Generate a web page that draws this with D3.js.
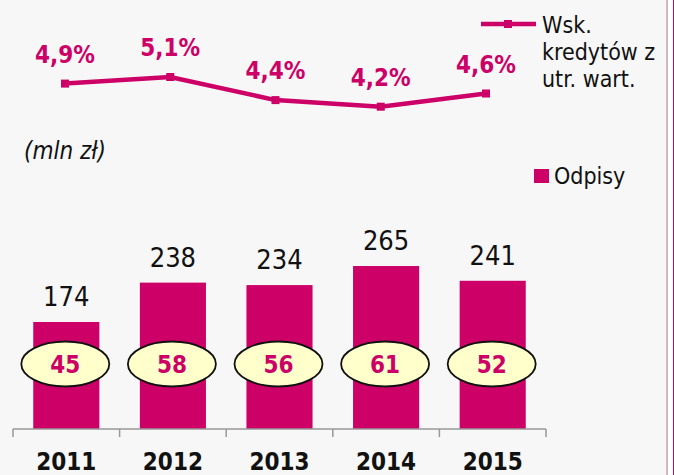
<!DOCTYPE html>
<html>
<head>
<meta charset="utf-8">
<script src="https://cdn.jsdelivr.net/npm/d3@7"></script>
<style>
  html, body { margin: 0; padding: 0; background: #fff; }
  svg { display: block; }
  text { font-family: "DejaVu Sans Condensed", "DejaVu Sans", sans-serif; }
</style>
</head>
<body>
<div id="chart"></div>
<script>
// data
var years = ["2011", "2012", "2013", "2014", "2015"];
var odpisy = [174, 238, 234, 265, 241];
var ellipseVals = [45, 58, 56, 61, 52];
var wskaznik = [4.9, 5.1, 4.4, 4.2, 4.6];
var wskLabels = ["4,9%", "5,1%", "4,4%", "4,2%", "4,6%"];
var legendLine = ["Wsk.", "kredytów z", "utr. wart."];
var legendBar = "Odpisy";
var unitLabel = "(mln zł)";

var W = 674, H = 475,
    magenta = "#cc0066";

var svg = d3.select("#chart").append("svg")
    .attr("width", W)
    .attr("height", H);

// background + right edge frame
svg.append("rect").attr("width", W).attr("height", H).attr("fill", "#fff");
svg.append("rect").attr("width", 666).attr("height", H).attr("fill", "#f7f7f7");
svg.append("rect").attr("x", 666).attr("width", 2).attr("height", H).attr("fill", "#cfb7be");
svg.append("rect").attr("x", 673).attr("width", 1).attr("height", H).attr("fill", magenta);

// bars
var x = d3.scaleBand()
    .domain(years)
    .range([13, 546])
    .paddingInner(0.38)
    .paddingOuter(0.19);

var xCat = d3.scaleBand()
    .domain(years)
    .range([13, 546]);

var y = d3.scaleLinear()
    .domain([0, 300])
    .range([429, 244.5]);

svg.append("g")
    .selectAll("rect")
    .data(odpisy)
    .join("rect")
    .attr("x", (d, i) => x(years[i]))
    .attr("y", d => y(d))
    .attr("width", x.bandwidth())
    .attr("height", d => y(0) - y(d))
    .attr("fill", magenta);

svg.append("g")
    .selectAll("text")
    .data(odpisy)
    .join("text")
    .attr("x", (d, i) => x(years[i]) + x.bandwidth() / 2)
    .attr("y", d => y(d) - 16)
    .attr("text-anchor", "middle")
    .style("font-size", "27px")
    .attr("fill", "#111")
    .text(d => d);

// axis: baseline with ticks at category borders
var axis = svg.append("g").attr("stroke", "#999").attr("stroke-width", 1.5);
axis.append("line")
    .attr("x1", xCat.range()[0]).attr("x2", xCat.range()[1])
    .attr("y1", y(0)).attr("y2", y(0));
var borders = years.map(d => xCat(d)).concat([xCat.range()[1]]);
axis.selectAll("line.tick")
    .data(borders)
    .join("line")
    .attr("class", "tick")
    .attr("x1", d => d).attr("x2", d => d)
    .attr("y1", y(0)).attr("y2", y(0) + 8);

svg.append("g")
    .selectAll("text")
    .data(years)
    .join("text")
    .attr("x", d => xCat(d) + xCat.bandwidth() / 2)
    .attr("y", 470)
    .attr("text-anchor", "middle")
    .style("font-size", "24px")
    .style("font-weight", "bold")
    .attr("fill", "#111")
    .text(d => d);

// ellipses
var ell = svg.append("g")
    .selectAll("g")
    .data(ellipseVals)
    .join("g")
    .attr("transform", (d, i) => "translate(" + (x(years[i]) + x.bandwidth() / 2 - 1) + ",364)");
ell.append("ellipse")
    .attr("rx", 44)
    .attr("ry", 22.5)
    .attr("fill", "#ffffcc")
    .attr("stroke", "#111")
    .attr("stroke-width", 1.8);
ell.append("text")
    .attr("y", 9)
    .attr("text-anchor", "middle")
    .style("font-size", "24px")
    .style("font-weight", "bold")
    .attr("fill", magenta)
    .text(d => d);

// line series
var xl = d3.scalePoint()
    .domain(years)
    .range([65, 486]);
var yl = d3.scaleLinear()
    .domain([4, 5.2])
    .range([113.3, 73.7]);

var line = d3.line()
    .x((d, i) => xl(years[i]))
    .y(d => yl(d));

svg.append("path")
    .datum(wskaznik)
    .attr("d", line)
    .attr("fill", "none")
    .attr("stroke", magenta)
    .attr("stroke-width", 4.5);

svg.append("g")
    .selectAll("rect")
    .data(wskaznik)
    .join("rect")
    .attr("x", (d, i) => xl(years[i]) - 4)
    .attr("y", d => yl(d) - 4)
    .attr("width", 8)
    .attr("height", 8)
    .attr("fill", magenta);

svg.append("g")
    .selectAll("text")
    .data(wskaznik)
    .join("text")
    .attr("x", (d, i) => xl(years[i]))
    .attr("y", d => yl(d) - 21)
    .attr("text-anchor", "middle")
    .style("font-size", "24px")
    .style("font-weight", "bold")
    .attr("fill", magenta)
    .text((d, i) => wskLabels[i]);

// unit label
svg.append("text")
    .attr("x", 24)
    .attr("y", 159)
    .style("font-size", "24px")
    .style("font-style", "italic")
    .attr("fill", "#111")
    .text(unitLabel);

// legend: line
var lg = svg.append("g");
lg.append("line")
    .attr("x1", 481).attr("x2", 536)
    .attr("y1", 24).attr("y2", 24)
    .attr("stroke", magenta).attr("stroke-width", 4.5);
lg.append("rect")
    .attr("x", 504).attr("y", 20).attr("width", 8).attr("height", 8)
    .attr("fill", magenta);
lg.selectAll("text")
    .data(legendLine)
    .join("text")
    .attr("x", 542)
    .attr("y", (d, i) => 33 + i * 27)
    .style("font-size", "23px")
    .attr("fill", "#111")
    .text(d => d);

// legend: bar
svg.append("rect")
    .attr("x", 534).attr("y", 169).attr("width", 15).attr("height", 14)
    .attr("fill", magenta);
svg.append("text")
    .attr("x", 554)
    .attr("y", 184)
    .style("font-size", "23px")
    .attr("fill", "#111")
    .text(legendBar);
</script>
</body>
</html>
